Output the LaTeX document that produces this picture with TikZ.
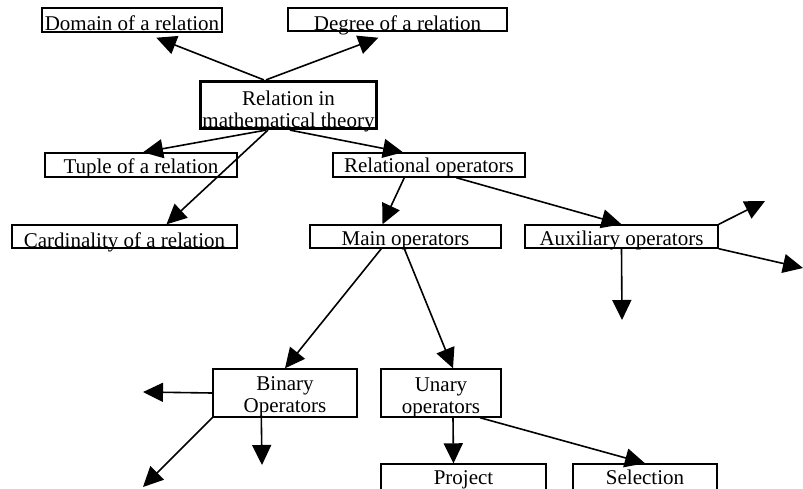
\documentclass[tikz,border=0pt]{standalone}
\usepackage{fontspec}
\setmainfont{Liberation Serif}
\usetikzlibrary{arrows.meta,calc}
% text whose baseline sits #1 below the node centre
\newcommand\liftedtext[2]{\raisebox{-#1}[0pt][0pt]{#2}}
% two centred lines, first baseline #1 below the node centre
\newcommand\pairtext[3]{\raisebox{-#1}[0pt][0pt]{\begin{tabular}[t]{@{}c@{}}#2\\#3\end{tabular}}}
\begin{document}
\begin{tikzpicture}[x=1pt,y=-1pt,
  box/.style={draw, line width=1.4pt, inner sep=0pt, font=\fontsize{21}{22}\selectfont},
  link/.style={line width=1.6pt, -{Triangle[length=20pt,width=19pt]}}]
\useasboundingbox (0,0) rectangle (803,488);

% boxes
\node[box, minimum width=180pt, minimum height=24pt] (domain) at (132,20) {\liftedtext{10pt}{Domain of a relation}};
\node[box, minimum width=219pt, minimum height=23pt] (degree) at (397.5,19.5) {\liftedtext{11pt}{Degree of a relation}};
\node[box, line width=3.2pt, minimum width=176pt, minimum height=47pt] (rel) at (288.5,105) {\pairtext{0pt}{Relation in}{mathematical theory}};
\node[box, minimum width=192pt, minimum height=24pt] (tuple) at (141,165) {\liftedtext{8pt}{Tuple of a relation}};
\node[box, minimum width=192pt, minimum height=24pt] (relop) at (429,165) {\liftedtext{7pt}{Relational operators}};
\node[box, minimum width=225pt, minimum height=23pt] (card) at (124.5,236.5) {\liftedtext{10.5pt}{Cardinality of a relation}};
\node[box, minimum width=191pt, minimum height=23pt] (main) at (405.5,236.5) {\liftedtext{8.5pt}{Main operators}};
\node[box, minimum width=193pt, minimum height=23pt] (aux) at (621.5,236.5) {\liftedtext{8.5pt}{Auxiliary operators}};
\node[box, minimum width=144pt, minimum height=48pt] (binary) at (285,393) {\pairtext{-3pt}{Binary}{Operators}};
\node[box, minimum width=120pt, minimum height=48pt] (unary) at (441,393) {\pairtext{-2pt}{Unary}{operators}};
\node[box, minimum width=165pt, minimum height=48pt] (project) at (463.5,488) {\liftedtext{-3.5pt}{Project}};
\node[box, minimum width=144pt, minimum height=48pt] (selection) at (645,488) {\liftedtext{-3.5pt}{Selection}};

% loose arrow ends
\coordinate (auxup) at (765,201);
\coordinate (auxright) at (803,268);
\coordinate (auxdown) at (622,320);
\coordinate (binleft) at (143,392);
\coordinate (bindown) at (262,465);
\coordinate (bindiag) at (143,487);

% connectors
\draw[link] ($(rel.north west)+(65,0)$) -- ($(domain.south west)+(115,5)$);
\draw[link] ($(rel.north west)+(67,0)$) -- ($(degree.south west)+(91,6)$);
\draw[link] ($(rel.south west)+(67,0)$) -- ($(tuple.north)+(2,0)$);
\draw[link] ($(rel.south west)+(69,0)$) -- ($(card.north)+(42,0)$);
\draw[link] ($(rel.south west)+(91,0)$) -- ($(relop.north)+(-26,0)$);
\draw[link] ($(relop.south west)+(72,0)$) -- ($(main.north)+(-23,0)$);
\draw[link] ($(relop.south west)+(124,0)$) -- (aux.north);
\draw[link] (aux.north east) -- (auxup);
\draw[link] (aux.south east) -- (auxright);
\draw[link] (aux.south) -- (auxdown);
\draw[link] ($(main.south west)+(72,0)$) -- (binary.north);
\draw[link] ($(main.south west)+(95,0)$) -- ($(unary.north)+(12,0)$);
\draw[link] (binary.west) -- (binleft);
\draw[link] ($(binary.south west)+(49,0)$) -- (bindown);
\draw[link] (binary.south west) -- (bindiag);
\draw[link] ($(unary.south)+(12,0)$) -- ($(project.north)+(-10,0)$);
\draw[link] ($(unary.south)+(39,0)$) -- (selection.north);
\end{tikzpicture}
\end{document}
